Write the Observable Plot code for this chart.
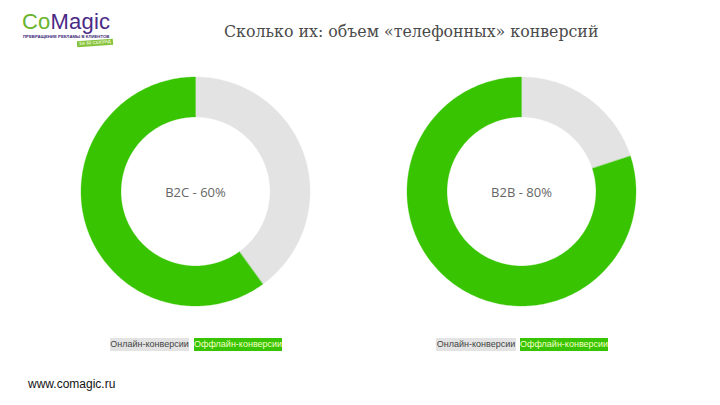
<!DOCTYPE html>
<html><head><meta charset="utf-8">
<script src="https://cdn.jsdelivr.net/npm/d3@7"></script>
<script src="https://cdn.jsdelivr.net/npm/@observablehq/plot@0.6"></script>
<style>
html,body{margin:0;padding:0;background:#fff;overflow:hidden}
#page{position:relative;width:720px;height:405px;overflow:hidden}
.abs{position:absolute;white-space:nowrap}
.chart{position:absolute;top:71px;width:240px;height:240px}
.chart svg{display:block}
.sw{position:absolute;top:338px;height:13px;font:9px/13px "Liberation Sans",sans-serif;white-space:nowrap;text-align:center}
</style></head><body><div id="page">
<div class="abs" style="left:22px;top:10px;font:400 22px/24px 'Liberation Sans',sans-serif;letter-spacing:.2px;color:#4b2a86"><span style="color:#6ab32c">Co</span>Magic</div>
<div class="abs" style="left:23px;top:34px;font:700 4.3px/5px 'Liberation Sans',sans-serif;color:#3d2a78">ПРЕВРАЩЕНИЕ РЕКЛАМЫ В КЛИЕНТОВ</div>
<div class="abs" style="left:77px;top:39.5px;background:#84c23c;color:#e8f5d0;font:700 4.5px/6px 'Liberation Sans',sans-serif;padding:0 2px;transform:rotate(-4deg)">ЗА 60 СЕКУНД</div>
<div class="abs" id="title" style="left:224px;top:21px;font:15.8px/22px 'DejaVu Serif',serif;color:#4a4a4a"></div>
<div class="abs" id="footer" style="left:28px;top:376px;font:12px/16px 'Liberation Sans',sans-serif;color:#111"></div>
</div>
<script>
const titleText = "Сколько их: объем «телефонных» конверсий";
const footerText = "www.comagic.ru";
const seriesNames = ["Онлайн-конверсии", "Оффлайн-конверсии"];
const seriesColors = ["#e3e3e3", "#38c400"];
const chartLabels = ["B2C - 60%", "B2B - 80%"];
const onlineValues = [40, 20];
const offlineValues = [60, 80];
const chartLefts = [75, 401];
const legendBoxes = [[110, 79, 194, 88], [436, 80, 520, 88]];

document.getElementById("title").textContent = titleText;
document.getElementById("footer").textContent = footerText;

const outerColat = 60, innerColat = 60 * 74.5 / 114.5;

// ring sector on a polar azimuthal map: fractions run clockwise from the top
function sector(from, to) {
  const lon = f => 180 - 360 * f;
  const n = Math.max(2, Math.ceil((to - from) * 360));
  const outer = d3.range(n + 1).map(i => [lon(from + (to - from) * i / n), 90 - outerColat]);
  const inner = outer.map(([l]) => [l, 90 - innerColat]).reverse();
  const ring = [...outer, ...inner, outer[0]];
  return {type: "Polygon", coordinates: [ring]};
}

chartLabels.forEach((label, k) => {
  const vals = [onlineValues[k], offlineValues[k]];
  const total = d3.sum(vals);
  let acc = 0;
  const slices = vals.map((v, i) => {
    const s = {name: seriesNames[i], value: v, from: acc / total, to: (acc + v) / total};
    acc += v;
    return {...s, geometry: sector(s.from, s.to)};
  });
  const plot = Plot.plot({
    width: 240, height: 240, margin: 0,
    color: {domain: seriesNames, range: seriesColors},
    projection: {
      type: ({width, height}) => d3.geoAzimuthalEquidistant()
        .rotate([0, -90, 0]).clipAngle(179)
        .scale(114.5 / (outerColat * Math.PI / 180))
        .translate([width / 2, height / 2]).precision(0.1)
    },
    marks: [
      Plot.geo(slices, {geometry: d => d.geometry, fill: d => d.name, stroke: d => d.name, strokeWidth: 0.3}),
      Plot.text([label], {x: () => 0, y: () => 90, dy: 1.5, text: d => d, fontSize: 13, fontFamily: "Open Sans", fill: "#666", stroke: "none"})
    ]
  });
  plot.style.background = "transparent";
  const wrap = document.createElement("div");
  wrap.className = "chart";
  wrap.style.left = chartLefts[k] + "px";
  wrap.appendChild(plot);
  document.getElementById("page").appendChild(wrap);

  const b = legendBoxes[k];
  seriesNames.forEach((name, i) => {
    const sw = document.createElement("div");
    sw.className = "sw";
    sw.textContent = name;
    sw.style.left = b[i * 2] + "px";
    sw.style.width = b[i * 2 + 1] + "px";
    sw.style.background = seriesColors[i];
    sw.style.color = i ? "#f4ffc8" : "#444";
    document.getElementById("page").appendChild(sw);
  });
});
</script></body></html>
